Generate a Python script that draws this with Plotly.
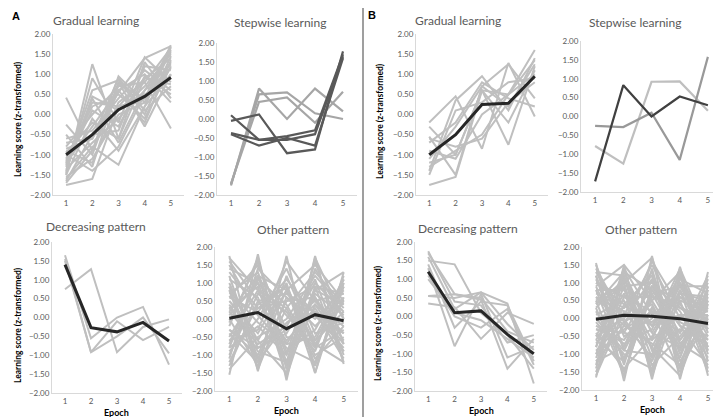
import plotly.graph_objects as go

W, H = 721, 417
epochs = [1, 2, 3, 4, 5]
tick_vals = [-2, -1.5, -1, -0.5, 0, 0.5, 1, 1.5, 2]

GREY = '#BFBFBF'
MEAN = '#262626'

# ---- panel A ----
gradA_lines = [
    [-1.75, -1.60, 0.20, 0.40, 1.72],
    [-1.60, -0.80, -1.25, 0.20, 1.60],
    [-1.50, 1.25, -0.60, 0.90, 1.40],
    [-1.45, 0.90, -0.20, 1.42, 0.80],
    [0.42, -0.90, 0.95, 0.30, 1.30],
    [-0.25, -1.00, 0.80, -0.30, 1.00],
    [-1.30, 0.40, -0.70, 0.60, 1.55],
    [-1.20, -0.30, 0.60, 1.00, 0.30],
    [-0.90, -1.20, 0.30, 0.80, 1.65],
    [-1.10, 0.20, 0.50, -0.10, 1.20],
    [-0.70, -0.60, 0.90, 0.10, 0.70],
    [-1.65, -0.50, -0.40, 1.20, 1.10],
    [-1.40, 0.45, 0.10, 0.70, 1.50],
    [-1.00, -1.40, -0.80, 0.50, 0.90],
    [-0.80, 0.00, 0.70, 0.80, -0.35],
    [-1.55, -1.10, 0.00, 0.30, 1.68],
    [-0.60, -0.40, 0.40, 1.10, 0.60],
    [-1.25, 0.60, 0.85, 0.00, 1.45],
    [-1.35, -0.70, -0.10, 0.60, 1.25],
    [-0.95, -0.20, -0.60, 1.30, 0.40],
    [-1.70, -0.90, 0.60, -0.20, 1.35],
    [-1.15, 0.30, 0.20, 0.90, 0.75],
    [-0.50, -1.30, 0.75, 0.40, 1.15],
    [-1.50, -0.10, -0.90, 0.20, 1.00],
    [-0.85, -0.60, 0.55, 1.40, 1.70],
    [-1.20, 0.10, -0.30, 0.95, 0.50],
]
gradA_mean = [-1.00, -0.50, 0.12, 0.45, 0.92]

stepA_dark = [
    [-0.05, 0.12, -0.90, -0.80, 1.78],
    [0.10, -0.55, -0.45, -0.30, 1.70],
    [-0.37, -0.55, -0.55, -0.40, 1.65],
    [-0.40, -0.70, -0.50, -0.70, 1.60],
]
stepA_light = [
    [-1.75, 0.80, 0.00, 0.80, 0.20],
    [-1.72, 0.65, 0.70, 0.15, 0.00],
    [-1.70, 0.45, 0.57, -0.10, 0.72],
]

decA_lines = [
    [1.65, -0.55, 0.00, 0.28, -1.25],
    [0.75, 1.28, -0.92, -0.25, -0.05],
    [1.55, -0.92, -0.10, -0.60, -0.25],
    [1.50, -0.92, -0.50, 0.00, -0.95],
]
decA_mean = [1.40, -0.27, -0.38, -0.13, -0.62]

otherA_lines = [
    [1.75, -1.45, 1.75, -1.50, 1.30],
    [-1.55, 1.80, -1.70, 1.75, -1.25],
    [0.90, -0.60, 0.80, -0.80, 1.10],
    [-0.80, 1.20, -1.20, 1.40, 0.00],
    [1.20, -1.10, 0.50, 0.60, -0.90],
    [0.30, 0.90, -1.60, 0.80, 0.40],
    [-0.40, -1.20, 1.20, -0.60, 0.90],
    [1.50, 0.10, -0.80, -1.20, 0.60],
    [-1.20, 0.40, 0.90, -1.50, 1.00],
    [0.60, 1.50, -0.30, 0.20, -1.10],
    [-0.60, -0.30, 1.60, 0.50, -0.40],
    [0.10, 1.00, -1.00, 1.60, -0.70],
    [1.00, -0.80, -0.40, 1.00, 0.20],
    [-1.00, 0.70, 0.20, -0.90, 1.20],
    [0.80, -1.40, 0.60, 0.00, 0.80],
    [-0.20, 1.70, -1.40, 0.40, -0.20],
    [1.30, 0.30, 0.90, -0.70, -1.20],
    [-1.40, -0.50, 0.00, 1.20, 0.30],
    [0.40, -0.90, -1.20, 0.90, 0.70],
    [-0.70, 1.10, 0.40, -1.00, -0.50],
    [1.60, 0.50, -0.60, 0.30, -0.90],
    [-0.30, -1.00, 0.80, 1.50, 0.50],
    [0.70, 1.30, -0.90, -0.30, 1.10],
    [-0.90, 0.00, 1.40, -0.40, -0.10],
    [0.20, -0.70, -0.20, 1.10, -1.00],
    [1.10, 0.60, -1.30, 0.70, 0.10],
    [-1.10, 1.40, 0.60, -0.20, 0.60],
    [0.50, -0.40, 1.00, -1.30, 0.90],
    [-0.50, 0.80, -0.70, 0.60, -0.60],
    [0.00, -1.30, 0.30, 1.30, 0.40],
    [1.40, 1.00, 0.10, -0.80, -0.30],
    [-0.80, -0.20, -1.00, 0.80, 1.30],
    [0.60, 0.20, 1.10, 0.10, -0.80],
    [-0.10, 1.60, -0.50, -0.60, 0.20],
    [0.90, -1.20, -0.10, 0.50, 0.70],
    [-1.30, 0.50, 0.70, 0.20, -0.40],
    [0.30, -0.60, -1.50, 1.70, 0.00],
    [1.70, 0.80, 0.30, -1.10, -0.20],
    [-0.60, 0.30, 0.50, 0.90, -1.20],
    [0.80, -0.10, -0.70, -0.50, 1.00],
    [0.20, 1.20, 0.80, -0.70, 0.50],
    [-0.30, -0.80, -0.30, 0.40, -0.70],
]
otherA_mean = [0.02, 0.18, -0.27, 0.12, -0.05]

# ---- panel B ----
gradB_lines = [
    [-1.75, -1.55, 0.60, 0.50, 1.60],
    [-0.20, 0.45, -0.85, 1.28, -0.05],
    [-1.40, 0.35, 0.95, 0.10, 1.40],
    [-0.55, -1.50, 0.70, 1.25, 0.40],
    [-1.20, -1.00, 0.60, -0.75, 1.20],
    [-0.70, -0.20, 0.80, 0.40, 0.20],
    [-1.30, -0.90, -0.50, 0.50, 1.35],
    [-0.30, -1.00, 0.60, -0.20, 1.10],
    [-1.50, 0.10, 0.30, 0.80, 0.90],
    [-0.90, -1.10, 0.00, 0.50, 1.00],
    [-1.10, -0.30, 0.70, 0.20, 1.25],
    [-0.60, -0.80, -0.60, 0.30, 0.80],
]
gradB_mean = [-1.00, -0.50, 0.25, 0.28, 0.95]

stepB_dark = [-1.72, 0.83, 0.00, 0.53, 0.30]
stepB_mid = [-0.25, -0.28, 0.10, -1.15, 1.58]
stepB_light = [-0.78, -1.25, 0.92, 0.93, 0.15]

decB_lines = [
    [1.70, 0.60, 0.50, -0.40, -0.70],
    [1.60, 0.20, 0.65, 0.35, -1.80],
    [1.50, 1.40, 0.10, -0.50, -1.40],
    [0.35, 0.25, -0.60, 0.10, -0.20],
    [0.55, 0.60, 0.45, -1.40, -0.60],
    [1.30, -0.80, 0.60, -1.10, -0.80],
    [1.10, 0.00, -0.30, 0.20, -1.30],
    [1.75, 0.40, 0.30, -0.70, -0.50],
    [1.00, 0.10, -0.10, -0.60, -1.10],
    [0.55, 0.50, 0.65, -0.20, -0.90],
    [1.40, -0.30, 0.40, 0.30, -1.20],
]
decB_mean = [1.20, 0.10, 0.15, -0.48, -1.00]

otherB_lines = [
    [1.55, -1.75, 1.75, -1.70, 1.30],
    [-1.65, 1.50, -1.70, 1.45, -1.60],
    [1.20, -1.30, 1.40, -1.40, 0.90],
    [-1.40, 1.20, -1.50, 1.20, -1.20],
    [0.90, -0.80, 1.10, -1.00, 0.60],
    [-1.00, 0.90, -1.10, 1.00, -0.80],
    [0.60, 0.20, -0.80, 0.80, -1.40],
    [-0.60, -1.20, 0.80, -0.40, 1.00],
    [1.00, 0.60, 0.20, -1.50, 0.40],
    [-1.20, -0.20, 1.60, 0.30, -0.30],
    [0.30, 1.10, -0.40, -0.80, 0.80],
    [-0.30, -0.60, 0.50, 1.30, -1.00],
    [1.40, 0.00, -1.20, 0.50, 0.20],
    [-0.80, 1.40, 0.10, -0.60, 0.50],
    [0.50, -1.50, 0.70, 0.90, -0.50],
    [-1.50, 0.40, 1.20, -1.20, 0.10],
    [0.80, 0.80, -0.60, 0.10, -0.90],
    [0.00, -0.90, -1.00, 1.10, 0.70],
    [1.10, -0.40, 0.90, -0.20, -1.30],
    [-0.50, 1.00, -1.60, 0.60, 0.30],
    [0.20, -1.10, 0.30, -0.90, 1.10],
    [-1.10, 0.60, 0.60, 0.40, -0.60],
    [0.70, 0.30, 1.30, -0.70, 0.00],
    [-0.20, -0.70, -0.30, 1.40, -0.40],
    [1.30, 1.20, -0.90, -0.30, -0.70],
    [-0.90, -0.10, 0.40, -1.10, 0.90],
    [0.40, 0.90, 1.00, 0.20, -1.10],
    [-0.40, -1.40, -0.50, 0.70, 0.60],
    [0.10, 0.50, -1.30, -0.50, 0.40],
    [1.50, -0.50, 0.00, 1.00, -0.20],
    [-1.30, 1.30, 0.80, -0.10, -0.50],
    [0.60, -0.20, -0.70, -1.30, 0.80],
    [-0.70, 0.10, 1.50, 0.00, 0.20],
    [0.90, 1.50, 0.50, -0.80, 0.10],
    [-0.10, -1.00, -1.40, 0.80, -0.80],
    [1.00, 0.40, -0.20, 1.20, -0.30],
    [-1.00, -0.30, 0.20, -0.40, 1.20],
    [0.30, -1.60, 0.90, 0.50, -1.50],
    [-0.60, 0.70, -0.80, -1.60, 0.50],
    [1.20, -0.90, 0.60, 0.30, 0.00],
    [-1.60, 0.20, -0.10, 0.60, -0.10],
    [0.50, 1.00, 1.70, -0.60, 0.30],
    [-0.30, -0.40, -0.60, 1.30, -0.90],
    [0.80, -1.20, 0.30, -0.90, 0.70],
    [-0.80, 1.10, -0.20, 0.10, 0.10],
    [0.00, 0.30, 0.90, -0.20, -0.60],
    [1.30, -0.10, -1.10, 0.70, 0.50],
    [-1.20, -0.80, 0.70, -0.70, -1.20],
    [0.40, 1.30, -0.40, 0.90, 0.90],
    [-0.50, 0.00, 1.10, -1.40, 0.00],
]
otherB_mean = [-0.02, 0.09, 0.06, -0.01, -0.14]

# panel boxes in pixels: (left, right, top, bottom), title centre
panels = [
    dict(box=(45, 176, 26, 187), title='Gradual learning', tpos=(88, 12),
         series=[(l, GREY, 2) for l in gradA_lines] + [(gradA_mean, MEAN, 3)]),
    dict(box=(209, 349, 35, 187), title='Stepwise learning', tpos=(272, 14),
         series=[(l, '#A6A6A6', 2.2) for l in stepA_light] + [(l, '#595959', 2.2) for l in stepA_dark]),
    dict(box=(44, 174, 234, 385), title='Decreasing pattern', tpos=(88, 219),
         series=[(l, GREY, 2) for l in decA_lines] + [(decA_mean, MEAN, 3)], epoch=True),
    dict(box=(207, 350, 239, 383), title='Other pattern', tpos=(285, 221),
         series=[(l, GREY, 2) for l in otherA_lines] + [(otherA_mean, MEAN, 3)], epoch=True),
    dict(box=(408, 540, 26, 187), title='Gradual learning', tpos=(450, 12),
         series=[(l, GREY, 2) for l in gradB_lines] + [(gradB_mean, MEAN, 3)]),
    dict(box=(573, 714, 33, 184), title='Stepwise learning', tpos=(627, 14),
         series=[(stepB_light, GREY, 2.2), (stepB_mid, '#999999', 2.2), (stepB_dark, '#404040', 2.2)]),
    dict(box=(407, 539, 234, 383), title='Decreasing pattern', tpos=(460, 220),
         series=[(l, GREY, 2) for l in decB_lines] + [(decB_mean, MEAN, 3)], epoch=True),
    dict(box=(574, 714, 239, 382), title='Other pattern', tpos=(633, 221),
         series=[(l, GREY, 2) for l in otherB_lines] + [(otherB_mean, MEAN, 3)], epoch=True),
]


def px(x):
    return x / W


def py(y):
    return 1 - y / H


FONT = 'Lato'
fig = go.Figure()
layout = dict(width=W, height=H, margin=dict(l=0, r=0, t=0, b=0, autoexpand=False),
              paper_bgcolor='white', plot_bgcolor='white', showlegend=False,
              font=dict(family=FONT, color='#595959'))
annotations = []


def note(text, x, y, size, color='#595959', angle=0, family=FONT, xanchor='center'):
    annotations.append(dict(text=text, x=px(x), y=py(y), xref='paper', yref='paper',
                            xanchor=xanchor, yanchor='middle', showarrow=False,
                            textangle=angle, font=dict(size=size, color=color, family=family)))


for i, p in enumerate(panels):
    n = '' if i == 0 else str(i + 1)
    L, R, T, B = p['box']
    for vals, col, w in p['series']:
        fig.add_trace(go.Scatter(x=epochs, y=vals, mode='lines', xaxis='x' + n, yaxis='y' + n,
                                 line=dict(color=col, width=w), hoverinfo='skip'))
    layout['xaxis' + n] = dict(domain=[px(L), px(R)], anchor='y' + n, range=[0.5, 5.5],
                               tickvals=epochs, showgrid=False, zeroline=False,
                               showline=True, linecolor='#D9D9D9', linewidth=1,
                               ticks='', tickfont=dict(size=8, color='#595959'))
    layout['yaxis' + n] = dict(domain=[py(B), py(T)], anchor='x' + n, range=[-2, 2],
                               tickvals=tick_vals, tickformat='.2f', showgrid=False,
                               zeroline=False, showline=True, linecolor='#D9D9D9', linewidth=1,
                               ticks='', tickfont=dict(size=8, color='#595959'))
    note(p['title'], p['tpos'][0], p['tpos'][1], 12)
    if p.get('epoch'):
        note('<b>Epoch</b>', (L + R) / 2, B + 19, 9, color='black')

ylab = '<b>Learning score (z-transformed)</b>'
note(ylab, 3, 111, 8.5, color='black', angle=-90, xanchor='left')
note(ylab, 3, 317, 8.5, color='black', angle=-90, xanchor='left')
note(ylab, 372, 113, 8.5, color='black', angle=-90)
note(ylab, 370, 315, 8.5, color='black', angle=-90)

note('<b>A</b>', 2, 8, 11, color='black', family='Liberation Sans', xanchor='left')
note('<b>B</b>', 364, 7, 11, color='black', family='Liberation Sans')

layout['annotations'] = annotations
layout['shapes'] = [dict(type='line', xref='paper', yref='paper', x0=px(355), x1=px(355),
                         y0=0, y1=1, line=dict(color='#7F7F7F', width=1.5))]
fig.update_layout(**layout)
fig.write_html('out.html')
